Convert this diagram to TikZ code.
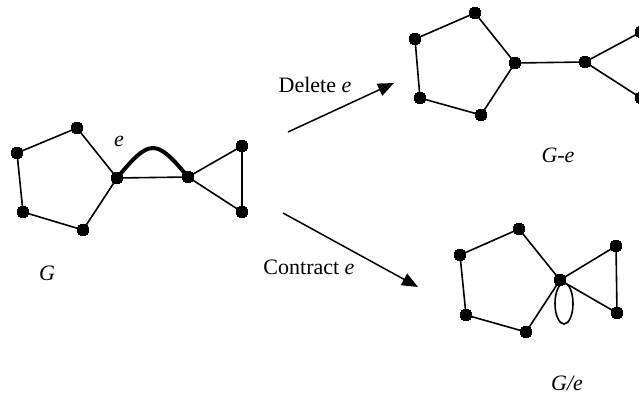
\documentclass[tikz,border=0pt]{standalone}
\usepackage{fontspec}
\setmainfont{Liberation Serif}
\usepackage{tkz-graph}
\usetikzlibrary{arrows.meta}

\begin{document}
\begin{tikzpicture}[x=1pt,y=-1pt,
    lbl/.style={font=\fontsize{22}{26}\selectfont},
    arr/.style={line width=1.5pt,-{Triangle[length=16pt,width=13pt]}}]
  \GraphInit[vstyle=Normal]
  \SetVertexNoLabel
  \tikzset{VertexStyle/.style={shape=circle,fill=black,draw=black,inner sep=0pt,
             minimum size=11.5pt,line width=0pt},
           EdgeStyle/.style={line width=1.6pt,black}}
  \useasboundingbox (0,0) rectangle (639,397);

  % G
  \Vertex[x=77,y=128]{a1}
  \Vertex[x=17,y=153]{a2}
  \Vertex[x=23,y=212]{a3}
  \Vertex[x=83,y=230]{a4}
  \Vertex[x=117,y=178]{a5}
  \Vertex[x=188,y=177]{a6}
  \Vertex[x=242,y=146]{a7}
  \Vertex[x=242,y=212]{a8}
  \Edges(a1,a2,a3,a4,a5,a1)
  \Edges(a6,a7,a8,a6)
  \Edge(a5)(a6)
  \draw[line width=4pt] (a5) to[out=50,in=130,looseness=1.75] (a6);
  \node[lbl] (le) at (119,141) {\textit{e}};
  \node[lbl] (lG) at (47,273) {\textit{G}};

  % G-e
  \Vertex[x=475,y=13]{b1}
  \Vertex[x=415,y=39]{b2}
  \Vertex[x=420,y=98]{b3}
  \Vertex[x=481,y=115]{b4}
  \Vertex[x=515,y=63]{b5}
  \Vertex[x=585,y=62]{b6}
  \Vertex[x=641,y=32]{b7}
  \Vertex[x=641,y=98]{b8}
  \Edges(b1,b2,b3,b4,b5,b1)
  \Edges(b6,b7,b8,b6)
  \Edge(b5)(b6)
  \node[lbl] (lGe) at (558,155) {\textit{G-e}};

  % G/e
  \Vertex[x=519,y=229]{c1}
  \Vertex[x=460,y=255]{c2}
  \Vertex[x=466,y=315]{c3}
  \Vertex[x=526,y=332]{c4}
  \Vertex[x=560,y=280]{c5}
  \Vertex[x=616,y=246]{c6}
  \Vertex[x=617,y=313]{c7}
  \Edges(c1,c2,c3,c4,c5,c1)
  \Edges(c5,c6,c7,c5)
  \draw[line width=1.6pt] ([xshift=4pt,yshift=-23.5pt]c5) ellipse [x radius=9pt,y radius=20.5pt];
  \node[lbl] (lGc) at (567,383) {\textit{G/e}};

  % arrows
  \coordinate (d0) at (288,132);
  \coordinate (d1) at (394,83);
  \coordinate (k0) at (283,213);
  \coordinate (k1) at (418,287);
  \draw[arr] (d0) -- (d1);
  \draw[arr] (k0) -- (k1);
  \node[lbl] (ld) at (315,85) {Delete \textit{e}};
  \node[lbl] (lk) at (309,267) {Contract \textit{e}};
\end{tikzpicture}
\end{document}
